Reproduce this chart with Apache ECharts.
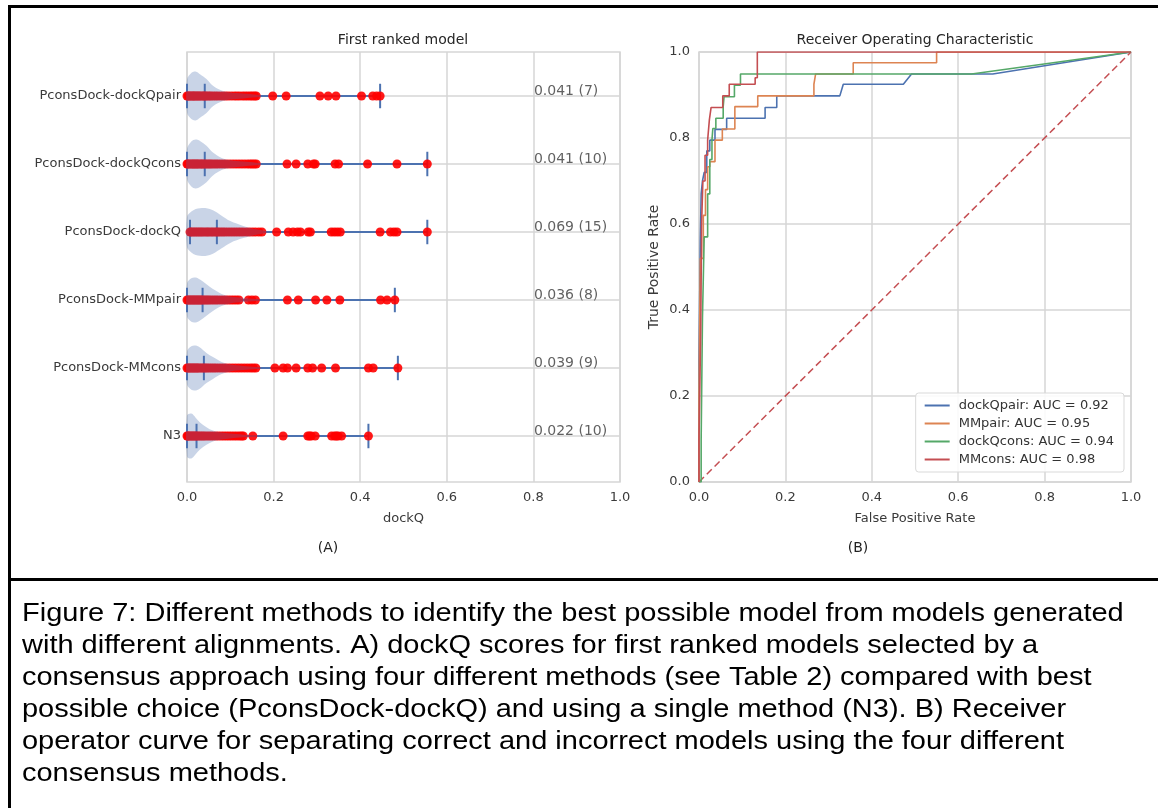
<!DOCTYPE html>
<html>
<head>
<meta charset="utf-8">
<script src="https://cdn.jsdelivr.net/npm/echarts@6.0.0/dist/echarts.min.js"></script>
<style>
html, body { margin: 0; padding: 0; background: #fff; }
#main { width: 1158px; height: 808px; }
</style>
</head>
<body>
<div id="main"></div>
<script>
// ---- panel A: dockQ of first ranked model ----
var rowNames = ['PconsDock-dockQpair', 'PconsDock-dockQcons', 'PconsDock-dockQ', 'PconsDock-MMpair', 'PconsDock-MMcons', 'N3'];
var rowMin = [0.0, 0.0, 0.007, 0.0, 0.0, 0.0];
var rowMedian = [0.041, 0.041, 0.069, 0.036, 0.039, 0.022];
var rowMax = [0.446, 0.555, 0.555, 0.48, 0.487, 0.419];
var rowHits = [7, 10, 15, 8, 9, 10];

var dotsDockQpair = [0.0, 0.003, 0.005, 0.008, 0.011, 0.014, 0.016, 0.019, 0.022, 0.025, 0.028, 0.031, 0.035, 0.038, 0.041, 0.044, 0.048, 0.052, 0.056, 0.061, 0.066, 0.071, 0.077, 0.083, 0.089, 0.095, 0.102, 0.109, 0.115, 0.121, 0.128, 0.134, 0.14, 0.146, 0.151, 0.156, 0.16,
  0.198, 0.229, 0.307, 0.326, 0.344, 0.403, 0.429, 0.438, 0.446];
var dotsDockQcons = [0.0, 0.002, 0.005, 0.009, 0.012, 0.015, 0.018, 0.021, 0.024, 0.027, 0.031, 0.034, 0.037, 0.041, 0.045, 0.049, 0.053, 0.057, 0.062, 0.067, 0.072, 0.078, 0.084, 0.09, 0.097, 0.104, 0.111, 0.118, 0.125, 0.132, 0.139, 0.145, 0.15, 0.155, 0.16,
  0.231, 0.252, 0.279, 0.292, 0.296, 0.342, 0.35, 0.417, 0.485, 0.555];
var dotsDockQ = [0.007, 0.01, 0.014, 0.018, 0.022, 0.026, 0.03, 0.034, 0.038, 0.043, 0.047, 0.051, 0.056, 0.06, 0.065, 0.069, 0.073, 0.078, 0.083, 0.088, 0.094, 0.1, 0.106, 0.112, 0.118, 0.124, 0.13, 0.137, 0.144, 0.151, 0.158, 0.166, 0.173,
  0.207, 0.234, 0.245, 0.255, 0.262, 0.28, 0.285, 0.333, 0.34, 0.347, 0.354, 0.446, 0.47, 0.478, 0.485, 0.555];
var dotsMMpair = [0.0, 0.003, 0.006, 0.009, 0.012, 0.015, 0.018, 0.021, 0.024, 0.027, 0.03, 0.033, 0.036, 0.04, 0.044, 0.048, 0.052, 0.057, 0.062, 0.067, 0.072, 0.078, 0.084, 0.09, 0.096, 0.102, 0.108, 0.114, 0.12,
  0.142, 0.15, 0.158, 0.232, 0.257, 0.297, 0.323, 0.353, 0.447, 0.462, 0.48];
var dotsMMcons = [0.0, 0.003, 0.006, 0.009, 0.012, 0.015, 0.018, 0.021, 0.024, 0.027, 0.031, 0.035, 0.039, 0.043, 0.047, 0.052, 0.057, 0.062, 0.067, 0.073, 0.079, 0.085, 0.091, 0.098, 0.105, 0.112, 0.119, 0.126, 0.133, 0.14, 0.147, 0.153, 0.159,
  0.203, 0.222, 0.232, 0.252, 0.279, 0.29, 0.311, 0.343, 0.419, 0.43, 0.487];
var dotsN3 = [0.0, 0.002, 0.004, 0.007, 0.01, 0.013, 0.016, 0.019, 0.022, 0.025, 0.029, 0.033, 0.037, 0.041, 0.046, 0.051, 0.056, 0.061, 0.067, 0.073, 0.079, 0.085, 0.091, 0.097, 0.103, 0.109, 0.115, 0.121, 0.126, 0.13,
  0.152, 0.222, 0.279, 0.283, 0.287, 0.296, 0.334, 0.341, 0.345, 0.349, 0.357, 0.419];
var rowDots = [dotsDockQpair, dotsDockQcons, dotsDockQ, dotsMMpair, dotsMMcons, dotsN3];

// violin half widths (fraction of row spacing) at these dockQ values
var violinX = [0, 0.01, 0.02, 0.03, 0.045, 0.06, 0.08, 0.1, 0.13, 0.16, 0.2];
var violinDockQpair = [0.24, 0.34, 0.36, 0.32, 0.25, 0.15, 0.08, 0.05, 0.035, 0.02, 0];
var violinDockQcons = [0.22, 0.33, 0.36, 0.34, 0.27, 0.17, 0.09, 0.055, 0.035, 0.02, 0];
var violinDockQ = [0.22, 0.3, 0.34, 0.35, 0.35, 0.32, 0.24, 0.16, 0.09, 0.04, 0];
var violinMMpair = [0.24, 0.32, 0.33, 0.3, 0.23, 0.16, 0.09, 0.05, 0.03, 0.015, 0];
var violinMMcons = [0.24, 0.32, 0.33, 0.3, 0.22, 0.16, 0.09, 0.05, 0.03, 0.015, 0];
var violinN3 = [0.3, 0.33, 0.27, 0.2, 0.13, 0.08, 0.05, 0.035, 0.02, 0.01, 0];
var violinWidths = [violinDockQpair, violinDockQcons, violinDockQ, violinMMpair, violinMMcons, violinN3];

// ---- panel B: ROC curves ----
var rocNames = ['dockQpair', 'MMpair', 'dockQcons', 'MMcons'];
var rocAuc = [0.92, 0.95, 0.94, 0.98];
var rocColors = ['#4c72b0', '#dd8452', '#55a868', '#c44e52'];

var fprDockQpair = [0, 0, 0.003, 0.003, 0.005, 0.005, 0.008, 0.008, 0.012, 0.012, 0.018, 0.018, 0.025, 0.025, 0.037, 0.037, 0.064, 0.064, 0.153, 0.153, 0.18, 0.18, 0.326, 0.334, 0.473, 0.492, 0.68, 1];
var tprDockQpair = [0, 0.28, 0.28, 0.56, 0.56, 0.67, 0.67, 0.7, 0.7, 0.72, 0.72, 0.77, 0.77, 0.795, 0.795, 0.82, 0.82, 0.846, 0.846, 0.871, 0.871, 0.898, 0.898, 0.925, 0.925, 0.949, 0.949, 1];
var fprMMpair = [0, 0, 0.003, 0.003, 0.01, 0.01, 0.015, 0.015, 0.02, 0.02, 0.025, 0.025, 0.037, 0.037, 0.054, 0.054, 0.083, 0.083, 0.136, 0.136, 0.266, 0.266, 0.27, 0.27, 0.357, 0.357, 0.55, 0.55, 1];
var tprMMpair = [0, 0.2, 0.2, 0.52, 0.52, 0.62, 0.62, 0.68, 0.68, 0.733, 0.733, 0.745, 0.745, 0.795, 0.795, 0.821, 0.821, 0.873, 0.873, 0.898, 0.898, 0.925, 0.925, 0.949, 0.949, 0.975, 0.975, 1, 1];
var fprDockQcons = [0, 0.005, 0.005, 0.008, 0.008, 0.012, 0.012, 0.02, 0.02, 0.025, 0.025, 0.03, 0.03, 0.032, 0.032, 0.039, 0.039, 0.056, 0.056, 0.058, 0.058, 0.082, 0.082, 0.096, 0.096, 0.631, 1];
var tprDockQcons = [0, 0, 0.1, 0.1, 0.38, 0.38, 0.57, 0.57, 0.67, 0.67, 0.75, 0.75, 0.795, 0.795, 0.822, 0.822, 0.846, 0.846, 0.873, 0.873, 0.896, 0.896, 0.923, 0.923, 0.949, 0.949, 1];
var fprMMcons = [0, 0, 0.004, 0.004, 0.006, 0.006, 0.009, 0.009, 0.014, 0.014, 0.02, 0.02, 0.024, 0.024, 0.028, 0.028, 0.055, 0.055, 0.07, 0.07, 0.13, 0.13, 0.135, 0.135, 1];
var tprMMcons = [0, 0.1, 0.1, 0.35, 0.35, 0.6, 0.6, 0.7, 0.7, 0.76, 0.76, 0.795, 0.795, 0.842, 0.842, 0.871, 0.871, 0.898, 0.898, 0.925, 0.925, 0.94, 0.94, 1, 1];
var rocFpr = [fprDockQpair, fprMMpair, fprDockQcons, fprMMcons];
var rocTpr = [tprDockQpair, tprMMpair, tprDockQcons, tprMMcons];
var chanceLine = [[0, 0], [1, 1]];

var captionLines = [
  'Figure 7: Different methods to identify the best possible model from models generated',
  'with different alignments. A) dockQ scores for first ranked models selected by a',
  'consensus approach using four different methods (see Table 2) compared with best',
  'possible choice (PconsDock-dockQ) and using a single method (N3). B) Receiver',
  'operator curve for separating correct and incorrect models using the four different',
  'consensus methods.'
];

var FONT = 'DejaVu Sans';
var gridColor = '#d6d6d6';
var labelColor = '#3a3a3a';

var chart = echarts.init(document.getElementById('main'));

var dotData = [];
rowDots.forEach(function (arr, r) {
  arr.forEach(function (v) { dotData.push([v, r]); });
});
var boxData = rowNames.map(function (n, r) { return [rowMin[r], rowMedian[r], rowMax[r], r]; });
var violinData = rowNames.map(function (n, r) { return [0, r]; });
var noteData = rowNames.map(function (n, r) {
  return { value: [0.8, r], name: rowMedian[r].toFixed(3) + ' (' + rowHits[r] + ')' };
});

var rocSeries = rocNames.map(function (n, k) {
  return {
    name: n + ': AUC = ' + rocAuc[k].toFixed(2),
    type: 'line',
    xAxisIndex: 2, yAxisIndex: 2,
    symbol: 'none',
    lineStyle: { color: rocColors[k], width: 1.6 },
    itemStyle: { color: rocColors[k] },
    data: rocFpr[k].map(function (x, i) { return [x, rocTpr[k][i]]; }),
    z: 3 + k
  };
});

function valueAxis(grid, name, gap, nameSize) {
  return {
    gridIndex: grid, type: 'value', min: 0, max: 1, interval: 0.2,
    name: name, nameLocation: 'middle', nameGap: gap,
    nameTextStyle: { fontFamily: FONT, fontSize: nameSize, color: labelColor },
    axisLine: { show: false }, axisTick: { show: false },
    axisLabel: { fontFamily: FONT, fontSize: 13, color: labelColor, margin: 9,
      formatter: function (v) { return v.toFixed(1); } },
    splitLine: { show: true, lineStyle: { color: gridColor, width: 1.5 } }
  };
}

var option = {
  backgroundColor: '#fff',
  animation: false,
  textStyle: { fontFamily: FONT },
  grid: [
    { left: 187, top: 52, width: 433, height: 430, show: true, borderColor: gridColor, borderWidth: 1.5, backgroundColor: '#fff' },
    { left: 187, top: 96, width: 433, height: 340 },
    { left: 699, top: 52, width: 432, height: 430, show: true, borderColor: gridColor, borderWidth: 1.5, backgroundColor: '#fff' }
  ],
  xAxis: [
    valueAxis(0, 'dockQ', 30, 13),
    { gridIndex: 1, type: 'value', min: 0, max: 1, show: false },
    valueAxis(2, 'False Positive Rate', 30, 13)
  ],
  yAxis: [
    { gridIndex: 0, type: 'value', show: false },
    {
      gridIndex: 1, type: 'category', data: rowNames, inverse: true, boundaryGap: false,
      axisLine: { show: false }, axisTick: { show: false },
      axisLabel: { fontFamily: FONT, fontSize: 13, color: labelColor, margin: 6, interval: 0 },
      splitLine: { show: true, lineStyle: { color: gridColor, width: 1.5 } }
    },
    valueAxis(2, 'True Positive Rate', 38, 14)
  ],
  legend: {
    data: rocSeries.map(function (s) { return s.name; }),
    orient: 'vertical', right: 34, top: 393,
    icon: 'rect', itemWidth: 25, itemHeight: 2, itemGap: 5,
    padding: [6, 10, 6, 9],
    backgroundColor: 'rgba(255,255,255,0.85)', borderColor: '#d9d9d9', borderWidth: 1, borderRadius: 3,
    textStyle: { fontFamily: FONT, fontSize: 13, color: '#333', padding: [0, 0, 0, 4] }
  },
  series: [
    {
      type: 'custom', xAxisIndex: 1, yAxisIndex: 1, z: 2, silent: true,
      data: boxData,
      renderItem: function (params, api) {
        var r = api.value(3);
        var band = api.coord([0, 1])[1] - api.coord([0, 0])[1];
        var a = api.coord([api.value(0), r]), m = api.coord([api.value(1), r]), b = api.coord([api.value(2), r]);
        var h = band * 0.18;
        var st = { stroke: '#4c72b0', lineWidth: 2 };
        return { type: 'group', children: [
          { type: 'line', shape: { x1: a[0], y1: a[1], x2: b[0], y2: b[1] }, style: st },
          { type: 'line', shape: { x1: a[0], y1: a[1] - h, x2: a[0], y2: a[1] + h }, style: st },
          { type: 'line', shape: { x1: m[0], y1: m[1] - h, x2: m[0], y2: m[1] + h }, style: st },
          { type: 'line', shape: { x1: b[0], y1: b[1] - h, x2: b[0], y2: b[1] + h }, style: st }
        ] };
      }
    },
    {
      type: 'scatter', xAxisIndex: 1, yAxisIndex: 1, z: 3, silent: true,
      symbolSize: 9, itemStyle: { color: '#ff0000', opacity: 0.9 },
      data: dotData
    },
    {
      type: 'custom', xAxisIndex: 1, yAxisIndex: 1, z: 4, silent: true,
      data: violinData,
      renderItem: function (params, api) {
        var r = api.value(1);
        var w = violinWidths[r];
        var band = api.coord([0, 1])[1] - api.coord([0, 0])[1];
        var top = [], bot = [];
        for (var i = 0; i < violinX.length; i++) {
          var p = api.coord([violinX[i], r]);
          top.push([p[0], p[1] - w[i] * band]);
          bot.unshift([p[0], p[1] + w[i] * band]);
        }
        return { type: 'polygon', shape: { points: top.concat(bot), smooth: 0.35 },
          style: { fill: 'rgba(76,114,176,0.3)' } };
      }
    },
    {
      type: 'scatter', xAxisIndex: 1, yAxisIndex: 1, z: 5, silent: true,
      symbolSize: 1, itemStyle: { color: 'rgba(0,0,0,0)' },
      label: { show: true, position: 'right', distance: 0, offset: [0, -5],
        formatter: '{b}', fontFamily: FONT, fontSize: 14, color: labelColor },
      data: noteData
    },
    {
      type: 'line', xAxisIndex: 2, yAxisIndex: 2, symbol: 'none', silent: true, z: 2,
      lineStyle: { color: '#c44e52', width: 1.5, type: [7, 4] },
      data: chanceLine
    }
  ].concat(rocSeries),
  graphic: [
    { type: 'text', x: 403, y: 40, style: { text: 'First ranked model', fontFamily: FONT, fontSize: 14, fill: '#262626', align: 'center', verticalAlign: 'middle' } },
    { type: 'text', x: 915, y: 40, style: { text: 'Receiver Operating Characteristic', fontFamily: FONT, fontSize: 14, fill: '#262626', align: 'center', verticalAlign: 'middle' } },
    { type: 'text', x: 328, y: 548, style: { text: '(A)', fontFamily: FONT, fontSize: 14, fill: '#222', align: 'center', verticalAlign: 'middle' } },
    { type: 'text', x: 858, y: 548, style: { text: '(B)', fontFamily: FONT, fontSize: 14, fill: '#222', align: 'center', verticalAlign: 'middle' } },
    { type: 'line', silent: true, shape: { x1: 9.5, y1: 5, x2: 9.5, y2: 808 }, style: { stroke: '#000', lineWidth: 3 } },
    { type: 'line', silent: true, shape: { x1: 8, y1: 6.5, x2: 1158, y2: 6.5 }, style: { stroke: '#000', lineWidth: 3 } },
    { type: 'line', silent: true, shape: { x1: 8, y1: 579.5, x2: 1158, y2: 579.5 }, style: { stroke: '#000', lineWidth: 3 } },
    { type: 'text', x: 22, y: 598, scaleX: 1.115, scaleY: 1,
      style: { text: captionLines.join('\n'), fontFamily: 'Liberation Sans', fontSize: 26, lineHeight: 32, fill: '#000', align: 'left', verticalAlign: 'top' } }
  ]
};

chart.setOption(option);
</script>
</body>
</html>
